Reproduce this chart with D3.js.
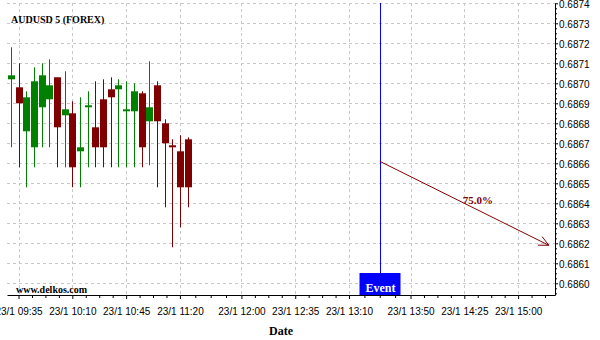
<!DOCTYPE html>
<html>
<head>
<meta charset="utf-8">
<script src="https://cdn.jsdelivr.net/npm/d3@7"></script>
<style>
  body { margin: 0; background: #fff; }
  svg { display: block; font-family: "Liberation Serif", "Times New Roman", serif; }
</style>
</head>
<body>
<svg width="600" height="340"></svg>
<script>
// 5 minute candles, 23/1
const times = ['09:30','09:35','09:40','09:45','09:50','09:55','10:00','10:05','10:10','10:15','10:20','10:25',
               '10:30','10:35','10:40','10:45','10:50','10:55','11:00','11:05','11:10','11:15','11:20','11:25'];
const opens  = [0.68702,0.68698,0.68676,0.68668,0.68688,0.68692,0.68703,0.68684,0.68685,0.68666,0.68689,0.68678,
                0.68692,0.68697,0.68697,0.68686,0.68686,0.68695,0.68681,0.68699,0.68680,0.68669,0.68666,0.68672];
const highs  = [0.68718,0.68710,0.68696,0.68708,0.68710,0.68712,0.68703,0.68706,0.68691,0.68693,0.68696,0.68701,
                0.68702,0.68703,0.68702,0.68701,0.68700,0.68696,0.68711,0.68701,0.68682,0.68672,0.68674,0.68673];
const lows   = [0.68668,0.68658,0.68648,0.68658,0.68668,0.68668,0.68658,0.68658,0.68648,0.68648,0.68658,0.68658,
                0.68658,0.68658,0.68658,0.68658,0.68658,0.68658,0.68659,0.68648,0.68638,0.68618,0.68628,0.68638];
const closes = [0.68704,0.68690,0.68693,0.68701,0.68704,0.68699,0.68678,0.68687,0.68658,0.68668,0.68689,0.68668,
                0.68668,0.68693,0.68699,0.68687,0.68696,0.68668,0.68688,0.68681,0.68670,0.68668,0.68648,0.68648];

const xTickLabels = ['09:35','10:10','10:45','11:20','12:00','12:35','13:10','13:50','14:25','15:00'];
const yTickValues = [0.6860,0.6861,0.6862,0.6863,0.6864,0.6865,0.6866,0.6867,0.6868,0.6869,0.6870,0.6871,0.6872,0.6873,0.6874];

const eventTime = '13:30';
const forecastStart = {time: '13:30', value: 0.68661};
const forecastEnd = {time: '15:20', value: 0.68619};
const forecastLabel = '75.0%';

const UP = '#008000', DOWN = '#800000';

const parse = s => { const [h, m] = s.split(':').map(Number); return new Date(2020, 0, 23, h, m); };

const x = d3.scaleTime().domain([new Date(2020,0,23,9,27,30), new Date(2020,0,23,15,24)]).range([7, 555]);
const y = d3.scaleLinear().domain([0.6859415, 0.6874015]).range([295, 3]);

const svg = d3.select('svg');

// grid
const xMajor = xTickLabels.map(parse);
svg.append('g').selectAll('line').data(yTickValues).join('line')
  .attr('x1', 7).attr('x2', 555)
  .attr('y1', d => Math.round(y(d)) + 0.5).attr('y2', d => Math.round(y(d)) + 0.5)
  .attr('stroke', '#c8c8c8').attr('stroke-dasharray', '3,3');
svg.append('g').selectAll('line').data(xMajor).join('line')
  .attr('x1', d => Math.round(x(d)) + 0.5).attr('x2', d => Math.round(x(d)) + 0.5)
  .attr('y1', 3).attr('y2', 295)
  .attr('stroke', '#c8c8c8').attr('stroke-dasharray', '3,3');

// candles
const candles = times.map((t, i) => ({t: parse(t), o: opens[i], h: highs[i], l: lows[i], c: closes[i]}));
const cg = svg.append('g').selectAll('g').data(candles).join('g')
  .attr('fill', d => d.c >= d.o ? UP : DOWN)
  .attr('stroke', d => d.c >= d.o ? UP : DOWN);
cg.append('line')
  .attr('x1', d => Math.round(x(d.t)) + 0.5).attr('x2', d => Math.round(x(d.t)) + 0.5)
  .attr('y1', d => y(d.h)).attr('y2', d => y(d.l))
  .attr('stroke-width', 1);
cg.append('rect')
  .attr('x', d => Math.round(x(d.t)) - 3)
  .attr('width', 7)
  .attr('y', d => y(Math.max(d.o, d.c)))
  .attr('height', d => Math.max(2, Math.abs(y(d.o) - y(d.c))))
  .attr('stroke', 'none');

// axes
const xAxis = d3.axisBottom(x).tickValues(xMajor).tickSize(4).tickSizeOuter(0)
  .tickFormat(d => '23/1 ' + d3.timeFormat('%H:%M')(d));
const gx = svg.append('g').attr('transform', 'translate(0,295)').call(xAxis);
gx.selectAll('text').attr('y', 20).attr('dy', 0).attr('font-size', 10).attr('fill', '#000');

const xMinor = [];
xMajor.forEach((t, i) => {
  const next = xMajor[i + 1] || new Date(+t + (t - xMajor[i - 1]));
  for (let k = 1; k < 4; k++) xMinor.push(new Date(+t + (next - t) * k / 4));
  if (!xMajor[i + 1]) xMinor.push(next);
});
svg.append('g').attr('transform', 'translate(0,295)')
  .call(d3.axisBottom(x).tickValues(xMinor.filter(d => x(d) < 555)).tickSize(3).tickSizeOuter(0).tickFormat(''))
  .call(g => g.select('.domain').remove());

const yAxis = d3.axisRight(y).tickValues(yTickValues).tickSize(3).tickPadding(1).tickSizeOuter(0)
  .tickFormat(d3.format('.4f'));
const gy = svg.append('g').attr('transform', 'translate(555,0)').call(yAxis);
gy.selectAll('text').attr('font-size', 10).attr('fill', '#000').attr('dy', '0.45em');
const yMinor = [];
yTickValues.forEach(v => { for (let k = 1; k < 4; k++) yMinor.push(v - k * 0.000025); });
svg.append('g').attr('transform', 'translate(555,0)')
  .call(d3.axisRight(y).tickValues(yMinor.filter(v => y(v) < 295)).tickSize(2).tickFormat(''))
  .call(g => g.select('.domain').remove());

// event marker
const ex = Math.round(x(parse(eventTime))) + 0.5;
svg.append('line').attr('x1', ex).attr('x2', ex).attr('y1', 3).attr('y2', 273)
  .attr('stroke', '#0000ff');
svg.append('rect').attr('x', ex - 21).attr('y', 273).attr('width', 41).attr('height', 22).attr('fill', '#0000ff');
svg.append('text').attr('x', ex).attr('y', 291.5).attr('text-anchor', 'middle')
  .attr('font-size', 12).attr('font-weight', 'bold').attr('fill', '#fff').text('Event');

// forecast arrow
const ax1 = x(parse(forecastStart.time)), ay1 = y(forecastStart.value);
const ax2 = x(parse(forecastEnd.time)), ay2 = y(forecastEnd.value);
const ang = Math.atan2(ay2 - ay1, ax2 - ax1);
const fg = svg.append('g').attr('stroke', DOWN).attr('fill', 'none').attr('stroke-width', 1);
fg.append('line').attr('x1', ax1).attr('y1', ay1).attr('x2', ax2).attr('y2', ay2);
[-0.45, 0.45].forEach(a => {
  fg.append('line').attr('x1', ax2).attr('y1', ay2)
    .attr('x2', ax2 - 11 * Math.cos(ang + a)).attr('y2', ay2 - 11 * Math.sin(ang + a));
});
const lx = ax1 + (ax2 - ax1) * 0.58, ly = ay1 + (ay2 - ay1) * 0.58;
svg.append('text').attr('x', lx).attr('y', ly - 6).attr('text-anchor', 'middle')
  .attr('font-size', 11).attr('font-weight', 'bold').attr('fill', DOWN).text(forecastLabel);

// titles
svg.append('text').attr('x', 11).attr('y', 23).attr('font-size', 10).attr('font-weight', 'bold')
  .text('AUDUSD 5 (FOREX)');
svg.append('text').attr('x', 16).attr('y', 293).attr('font-size', 10).attr('font-weight', 'bold')
  .text('www.delkos.com');
svg.append('text').attr('x', 281).attr('y', 335).attr('text-anchor', 'middle')
  .attr('font-size', 12).attr('font-weight', 'bold').text('Date');
</script>
</body>
</html>
